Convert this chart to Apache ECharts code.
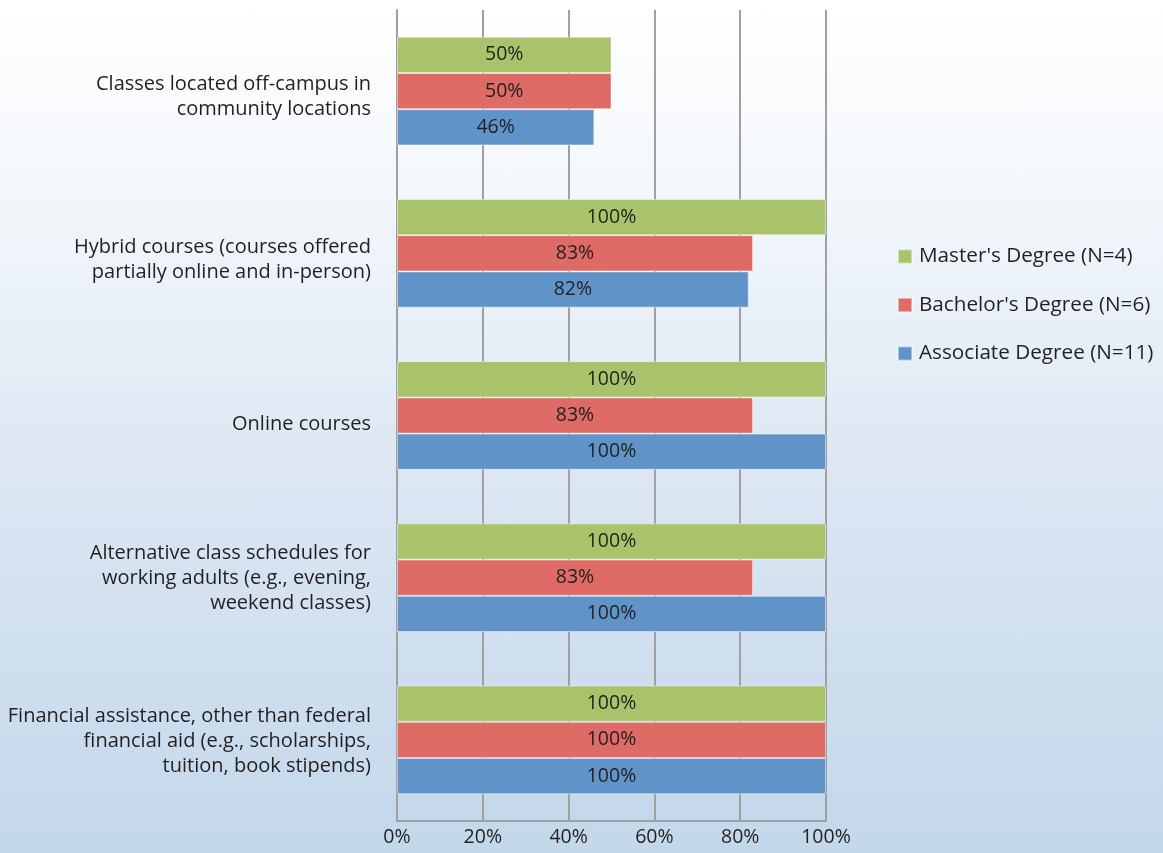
<!DOCTYPE html>
<html><head><meta charset="utf-8">
<script src="https://cdn.jsdelivr.net/npm/echarts@6/dist/echarts.min.js"></script>
<style>
html,body{margin:0;padding:0;}
body{background:linear-gradient(to bottom,#ffffff 0%,#f2f6fb 25%,#dce7f3 55%,#c3d7eb 100%);}
#c{width:1163px;height:853px;}
</style></head><body><div id="c"></div>
<script>
const categories = [
  "Classes located off-campus in\ncommunity locations",
  "Hybrid courses (courses offered\npartially online and in-person)",
  "Online courses",
  "Alternative class schedules for\nworking adults (e.g., evening,\nweekend classes)",
  "Financial assistance, other than federal\nfinancial aid (e.g., scholarships,\ntuition, book stipends)"
];
const masters = [50, 100, 100, 100, 100];
const bachelors = [50, 83, 83, 83, 100];
const associates = [46, 82, 100, 100, 100];
const seriesNames = ["Master's Degree (N=4)", "Bachelor's Degree (N=6)", "Associate Degree (N=11)"];
const colors = ['#a9c36b', '#df6b66', '#6094c9'];
const xTicks = [0, 20, 40, 60, 80, 100];

const font = '"Open Sans", sans-serif';
const fs = 19.5;
const catFs = 20;
const txt = '#231f20';
const chart = echarts.init(document.getElementById('c'), null, {renderer:'canvas'});
const mk = (name, data, color) => ({
  name, type:'bar', data, barGap:'0%', barCategoryGap:'33%',
  itemStyle:{color, borderColor:'rgba(255,255,255,0.45)', borderWidth:1},
  label:{show:true, position:'inside', formatter:'{c}%', color:txt, fontSize:fs, fontFamily:font},
  emphasis:{disabled:true}
});
const lineStyle = {fontSize:catFs, fontFamily:font, color:txt, lineHeight:25, align:'right'};
// a thin spacer line above each label pushes it down a little (more for fewer lines)
const rich = {
  n: Object.assign({}, lineStyle),
  s1: {fontSize:1, lineHeight:18},
  s2: {fontSize:1, lineHeight:12},
  s3: {fontSize:1, lineHeight:2}
};
const catFormatter = v => {
  const lines = v.split('\n');
  return '{s' + lines.length + '| }\n' + lines.map(l => '{n|' + l + '}').join('\n');
};
chart.setOption({
  backgroundColor:'transparent',
  animation:false,
  textStyle:{fontFamily:font},
  grid:{left:397, right:337, top:10, bottom:32, containLabel:false},
  legend:{
    orient:'vertical', left:892, top:241, itemGap:27.5, itemWidth:14, itemHeight:14,
    icon:'rect', data:seriesNames,
    textStyle:{color:txt, fontSize:20.7, fontFamily:font, padding:[0,0,0,2]}
  },
  xAxis:{
    type:'value', min:0, max:100, interval:20,
    axisLine:{show:true, lineStyle:{color:'#a0a0a0', width:2}},
    axisTick:{show:false},
    splitLine:{show:true, lineStyle:{color:'#a0a0a0', width:2}},
    axisLabel:{formatter:v => xTicks.includes(v) ? v + '%' : '', color:txt, fontSize:fs, fontFamily:font, margin:6}
  },
  yAxis:{
    type:'category', data:categories, inverse:true,
    axisLine:{show:true, lineStyle:{color:'#a0a0a0', width:2}},
    axisTick:{show:false},
    axisLabel:{formatter:catFormatter, rich, color:txt, fontSize:catFs, fontFamily:font, lineHeight:25, margin:26, align:'right'}
  },
  series:[
    mk(seriesNames[0], masters, colors[0]),
    mk(seriesNames[1], bachelors, colors[1]),
    mk(seriesNames[2], associates, colors[2])
  ]
});
</script></body></html>
